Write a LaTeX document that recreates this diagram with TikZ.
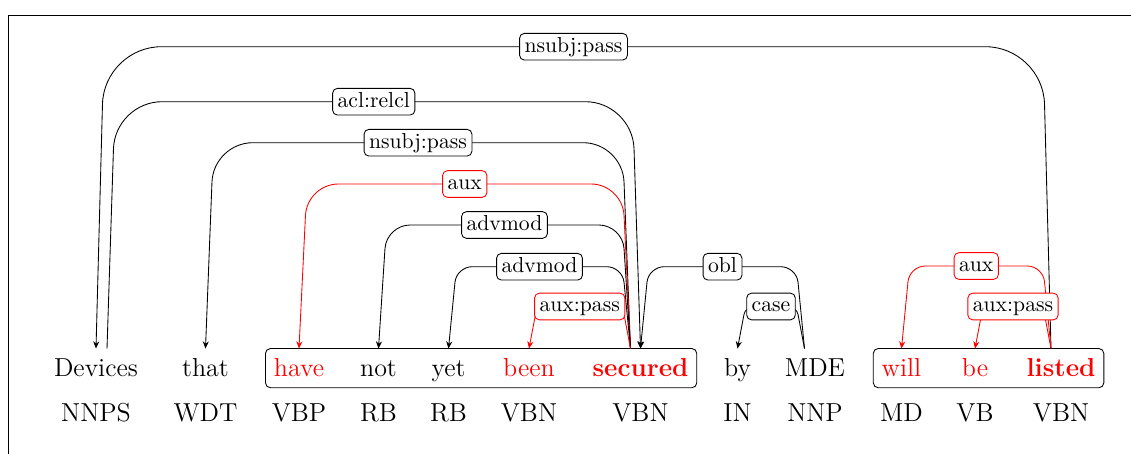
\documentclass[tikz,border=0pt]{standalone}
\usetikzlibrary{arrows.meta,calc,fit}

\tikzset{
  word/.style={font=\large, inner xsep=0pt, inner ysep=0pt,
    text height=12.8pt, text depth=4.9pt, anchor=base},
  tag/.style={font=\large, inner sep=0pt, anchor=base},
  hl/.style={text=red},
  grp/.style={draw, rounded corners=2.3pt, inner xsep=3.7pt, inner ysep=0pt},
  dep/.style={-{Stealth[length=3.3pt,width=2.8pt]}},
  lbl/.style={fill=white, text=black, font=\normalsize, rounded corners=2.2pt,
    inner xsep=2.3pt, inner ysep=1.65pt, text height=7pt, text depth=2pt},
}

% #1 colour, #2 head word, #3 start offset, #4 dependent word, #5 level, #6 relation
\newcommand\depedge[6]{%
  \pgfmathsetmacro\arcR{0.19*(349-#5)*0.4615}%
  \pgfmathsetmacro\arcS{sign(#3)*8}%
  \draw[dep, draw=#1, rounded corners=\arcR pt]
    let \p1=($(#2.north)+(#3,0)$), \p2=(#4.north), \p3=(0,#5), \p4=(\arcS,0) in
    (\p1) -- (\x1+\x4,\y3) -- node[lbl, draw=#1]{#6} (\x2-\x4,\y3) -- (\p2);
}

\begin{document}
\begin{tikzpicture}[x=0.4615pt, y=-0.4615pt]
  \useasboundingbox (0,0) rectangle (1131,453);
  \clip (0,0) rectangle (1131,453);
  \draw[line width=0.45pt] (8.3,15.3) rectangle (1400,700);

  % words
  \node[word]     (w1)  at (96,376.7)    {Devices};
  \node[word]     (w2)  at (205.5,376.7) {that};
  \node[word,hl]  (w3)  at (299,376.7)   {have};
  \node[word]     (w4)  at (378.5,376.7) {not};
  \node[word]     (w5)  at (448.5,376.7) {yet};
  \node[word,hl]  (w6)  at (529,376.7)   {been};
  \node[word,hl]  (w7)  at (640.5,376.7) {\bfseries secured};
  \node[word]     (w8)  at (737.5,376.7) {by};
  \node[word]     (w9)  at (815,376.7)   {MDE};
  \node[word,hl]  (w10) at (901.5,376.7) {will};
  \node[word,hl]  (w11) at (975,376.7)   {be};
  \node[word,hl]  (w12) at (1061,376.7)  {\bfseries listed};

  % part-of-speech tags
  \node[tag] (t1)  at (96,421.7)    {NNPS};
  \node[tag] (t2)  at (205.5,421.7) {WDT};
  \node[tag] (t3)  at (299,421.7)   {VBP};
  \node[tag] (t4)  at (378.5,421.7) {RB};
  \node[tag] (t5)  at (448.5,421.7) {RB};
  \node[tag] (t6)  at (529,421.7)   {VBN};
  \node[tag] (t7)  at (640.5,421.7) {VBN};
  \node[tag] (t8)  at (737.5,421.7) {IN};
  \node[tag] (t9)  at (815,421.7)   {NNP};
  \node[tag] (t10) at (901.5,421.7) {MD};
  \node[tag] (t11) at (975,421.7)   {VB};
  \node[tag] (t12) at (1061,421.7)  {VBN};

  % verb groups
  \node[grp, fit=(w3)(w7)]   (g1) {};
  \node[grp, fit=(w10)(w12)] (g2) {};

  % dependency arcs
  \depedge{black}{w12}{-10}{w1}{46.7}{nsubj:pass}
  \depedge{black}{w1}{11}{w7}{101.7}{acl:relcl}
  \depedge{black}{w7}{-10}{w2}{142.7}{nsubj:pass}
  \depedge{red}{w7}{-10}{w3}{184}{aux}
  \depedge{black}{w7}{-10}{w4}{225}{advmod}
  \depedge{black}{w7}{-10}{w5}{266.7}{advmod}
  \depedge{red}{w7}{-10}{w6}{306.5}{aux:pass}
  \depedge{black}{w9}{-10.5}{w7}{266.7}{obl}
  \depedge{black}{w9}{-10.5}{w8}{306.5}{case}
  \depedge{red}{w12}{-10}{w10}{266}{aux}
  \depedge{red}{w12}{-10}{w11}{306.5}{aux:pass}
\end{tikzpicture}
\end{document}
